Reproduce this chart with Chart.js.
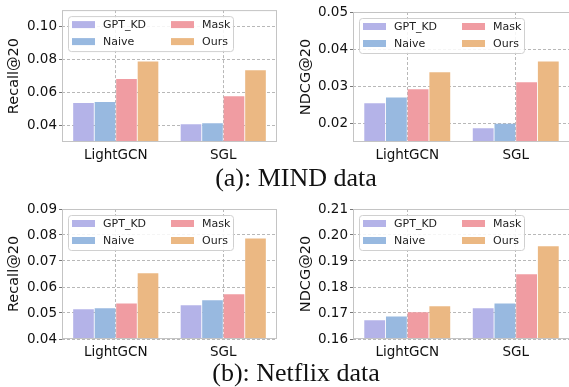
<!DOCTYPE html>
<html>
<head>
<meta charset="utf-8">
<script src="https://cdn.jsdelivr.net/npm/chart.js@4.4.1/dist/chart.umd.min.js"></script>
<style>
  body { margin: 0; background: #fff; }
  #wrap { position: relative; width: 569px; height: 387px; overflow: hidden; }
  canvas { position: absolute; }
  .cap {
    position: absolute; left: 0; width: 592px; text-align: center;
    font-family: "Liberation Serif", "Times New Roman", serif; font-size: 26px;
    color: #111; line-height: 30px;
  }
</style>
</head>
<body>
<div id="wrap">
  <canvas id="c1" style="left:0;top:0;" width="285" height="165"></canvas>
  <canvas id="c2" style="left:285px;top:0;" width="286" height="165"></canvas>
  <div class="cap" style="top:163px;">(a): MIND data</div>
  <canvas id="c3" style="left:0;top:195px;" width="285" height="167"></canvas>
  <canvas id="c4" style="left:285px;top:195px;" width="286" height="167"></canvas>
  <div class="cap" style="top:358px;">(b): Netflix data</div>
</div>
<script>
const categories = ["LightGCN", "SGL"];
const methods = ["GPT_KD", "Naive", "Mask", "Ours"];
const colors = ["#b4b3e8", "#98b9e0", "#f09ca2", "#ebb883"];

// MIND
const mindRecallGptKd = [0.0537, 0.0408];
const mindRecallNaive = [0.0543, 0.0413];
const mindRecallMask = [0.0682, 0.0577];
const mindRecallOurs = [0.0788, 0.0735];
const mindRecallTicks = [0.04, 0.06, 0.08, 0.10];

const mindNdcgGptKd = [0.0254, 0.0187];
const mindNdcgNaive = [0.0270, 0.0199];
const mindNdcgMask = [0.0292, 0.0311];
const mindNdcgOurs = [0.0338, 0.0367];
const mindNdcgTicks = [0.02, 0.03, 0.04, 0.05];

// Netflix
const netflixRecallGptKd = [0.0514, 0.0530];
const netflixRecallNaive = [0.0518, 0.0549];
const netflixRecallMask = [0.0537, 0.0572];
const netflixRecallOurs = [0.0653, 0.0787];
const netflixRecallTicks = [0.04, 0.05, 0.06, 0.07, 0.08, 0.09];

const netflixNdcgGptKd = [0.1672, 0.1718];
const netflixNdcgNaive = [0.1687, 0.1737];
const netflixNdcgMask = [0.1703, 0.1849];
const netflixNdcgOurs = [0.1726, 0.1957];
const netflixNdcgTicks = [0.16, 0.17, 0.18, 0.19, 0.20, 0.21];

const FONT = "'DejaVu Sans', sans-serif";

// frame around the plot area
const framePlugin = {
  id: "frame",
  afterDraw(chart) {
    const a = chart.chartArea;
    const ctx = chart.ctx;
    ctx.save();
    ctx.strokeStyle = "#c4c4c4";
    ctx.lineWidth = 1;
    ctx.strokeRect(a.left + 0.5, a.top + 0.5, a.right - a.left - 1, a.bottom - a.top - 1);
    ctx.restore();
  }
};

// legend drawn inside the axes, 2 columns
const innerLegend = {
  id: "innerLegend",
  afterDraw(chart) {
    const a = chart.chartArea;
    const ctx = chart.ctx;
    const x0 = a.left + 6, y0 = a.top + 6, w = 165, h = 35;
    ctx.save();
    ctx.fillStyle = "rgba(255,255,255,0.85)";
    ctx.strokeStyle = "#d0d0d0";
    ctx.lineWidth = 1;
    ctx.beginPath();
    ctx.roundRect(x0 + 0.5, y0 + 0.5, w, h, 3);
    ctx.fill();
    ctx.stroke();
    ctx.font = "11px " + FONT;
    ctx.textBaseline = "middle";
    chart.data.datasets.forEach((ds, i) => {
      const col = i < 2 ? 0 : 1;
      const row = i % 2;
      const sx = x0 + 4 + col * 99;
      const sy = y0 + 5 + row * 17;
      ctx.fillStyle = ds.backgroundColor;
      ctx.fillRect(sx, sy, 23, 7);
      ctx.fillStyle = "#222";
      ctx.fillText(ds.label, sx + 31, sy + 4);
    });
    ctx.restore();
  }
};

function makeChart(id, series, yMin, yMax, ticks, yTitle, pad, yWidth, titlePad) {
  new Chart(document.getElementById(id), {
    type: "bar",
    data: {
      labels: categories,
      datasets: methods.map((m, i) => ({
        label: m,
        data: series[i],
        backgroundColor: colors[i],
        borderWidth: 0,
        categoryPercentage: 0.8,
        barPercentage: 0.96
      }))
    },
    options: {
      responsive: false,
      animation: false,
      layout: { padding: pad },
      plugins: { legend: { display: false }, tooltip: { enabled: false } },
      scales: {
        x: {
          offset: true,
          grid: { offset: false, color: "#b8b8b8", lineWidth: 1, drawTicks: false },
          border: { display: false, dash: [3, 2] },
          ticks: { padding: 5, color: "#111", font: { family: FONT, size: 13.5 } },
          afterFit(scale) { scale.height = 23; }
        },
        y: {
          min: yMin,
          max: yMax,
          grid: { color: "#b8b8b8", lineWidth: 1, drawTicks: true, tickLength: 3, tickColor: "#777", tickBorderDash: [] },
          border: { display: false, dash: [3, 2] },
          ticks: {
            padding: 2,
            color: "#111",
            font: { family: FONT, size: 13.5 },
            callback: v => v.toFixed(2)
          },
          afterBuildTicks(scale) { scale.ticks = ticks.map(v => ({ value: v })); },
          afterFit(scale) { scale.width = yWidth; },
          title: {
            display: true,
            text: yTitle,
            color: "#111",
            font: { family: FONT, size: 14.5 },
            padding: { top: titlePad, bottom: 0 }
          }
        }
      }
    },
    plugins: [framePlugin, innerLegend]
  });
}

makeChart("c1", [mindRecallGptKd, mindRecallNaive, mindRecallMask, mindRecallOurs],
  0.03, 0.11, mindRecallTicks, "Recall@20", { top: 5, right: 8, left: 0, bottom: 0 }, 62, 6);
makeChart("c2", [mindNdcgGptKd, mindNdcgNaive, mindNdcgMask, mindNdcgOurs],
  0.015, 0.05, mindNdcgTicks, "NDCG@20", { top: 12, right: 1, left: 0, bottom: 0 }, 68, 13);
makeChart("c3", [netflixRecallGptKd, netflixRecallNaive, netflixRecallMask, netflixRecallOurs],
  0.04, 0.09, netflixRecallTicks, "Recall@20", { top: 14, right: 8, left: 0, bottom: 0 }, 62, 6);
makeChart("c4", [netflixNdcgGptKd, netflixNdcgNaive, netflixNdcgMask, netflixNdcgOurs],
  0.16, 0.21, netflixNdcgTicks, "NDCG@20", { top: 14, right: 1, left: 0, bottom: 0 }, 68, 13);
</script>
</body>
</html>
